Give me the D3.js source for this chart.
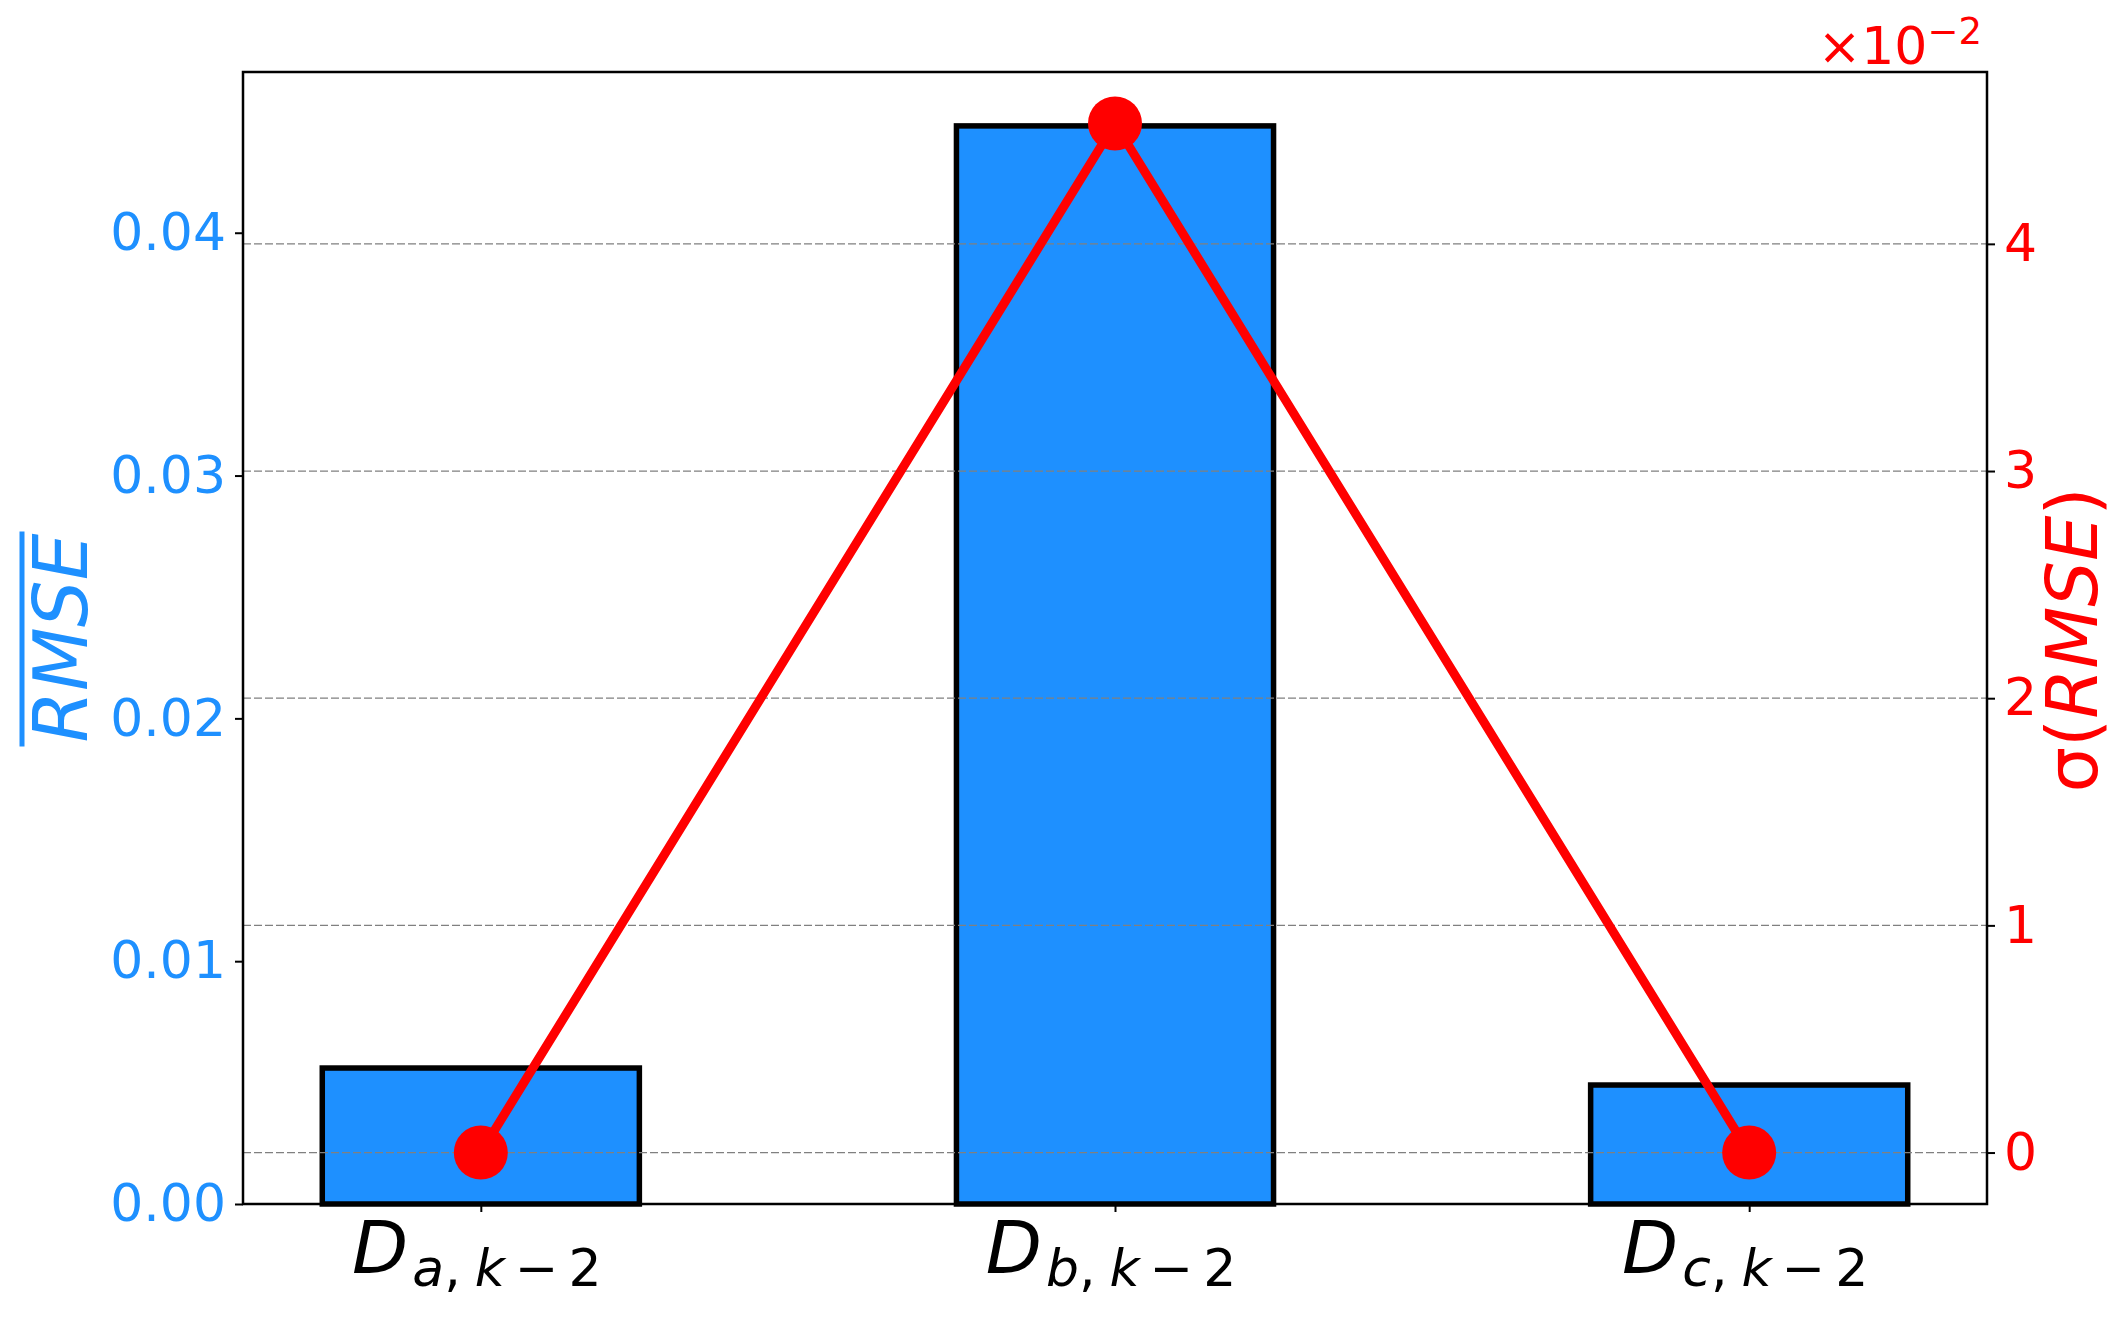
<!DOCTYPE html>
<html>
<head>
<meta charset="utf-8">
<title>RMSE bars</title>
<style>
    body { margin: 0; background: #fff; }
    svg { font-family: "DejaVu Sans", sans-serif; }
</style>
</head>
<body>
<svg width="2125" height="1318"></svg>
<script src="https://d3js.org/d3.v7.min.js"></script>
<script>
    // chart values
    var categories = ["a", "b", "c"];
    var rmseMean = [0.0056, 0.0444, 0.0049];
    var rmseStd = [0.0, 0.0453, 0.0];          // plotted in units of 1e-2
    var leftTicks = [0, 0.01, 0.02, 0.03, 0.04];
    var rightTicks = [0, 1, 2, 3, 4];

    var blue = "#1e90ff", red = "#ff0000";
    var svg = d3.select("svg");
    var m = {left: 243, right: 1987, top: 72, bottom: 1204};

    var x = d3.scaleLinear().domain([-0.375, categories.length - 1 + 0.375]).range([m.left, m.right]);
    var yL = d3.scaleLinear().domain([0, d3.max(rmseMean) * 1.05]).range([m.bottom, m.top]);
    var stdScaled = rmseStd.map(function(d) { return d * 100; });
    var sMin = d3.min(stdScaled), sMax = d3.max(stdScaled), sPad = (sMax - sMin) * 0.05;
    var yR = d3.scaleLinear().domain([sMin - sPad, sMax + sPad]).range([m.bottom, m.top]);

    // bars
    svg.append("g").selectAll("rect")
        .data(rmseMean)
        .enter().append("rect")
        .attr("x", function(d, i) { return x(i - 0.25); })
        .attr("width", x(0.25) - x(-0.25))
        .attr("y", function(d) { return yL(d); })
        .attr("height", function(d) { return yL(0) - yL(d); })
        .attr("fill", blue)
        .attr("stroke", "#000")
        .attr("stroke-width", 5.5);

    // grid of the right axis
    svg.append("g").selectAll("line")
        .data(rightTicks)
        .enter().append("line")
        .attr("x1", m.left).attr("x2", m.right)
        .attr("y1", function(d) { return yR(d); })
        .attr("y2", function(d) { return yR(d); })
        .attr("stroke", "#808080")
        .attr("stroke-width", 1.2)
        .attr("stroke-dasharray", "8,3");

    // std line + markers
    var line = d3.line()
        .x(function(d, i) { return x(i); })
        .y(function(d) { return yR(d); });
    svg.append("path")
        .datum(stdScaled)
        .attr("d", line)
        .attr("fill", "none")
        .attr("stroke", red)
        .attr("stroke-width", 9);
    svg.append("g").selectAll("circle")
        .data(stdScaled)
        .enter().append("circle")
        .attr("cx", function(d, i) { return x(i); })
        .attr("cy", function(d) { return yR(d); })
        .attr("r", 27)
        .attr("fill", red);

    // frame
    svg.append("rect")
        .attr("x", m.left).attr("y", m.top)
        .attr("width", m.right - m.left).attr("height", m.bottom - m.top)
        .attr("fill", "none").attr("stroke", "#000").attr("stroke-width", 2.5);

    // axes
    var axL = svg.append("g")
        .attr("transform", "translate(" + m.left + ",0)")
        .call(d3.axisLeft(yL).tickValues(leftTicks).tickFormat(d3.format(".2f")).tickSize(8).tickPadding(9).tickSizeOuter(0));
    var axR = svg.append("g")
        .attr("transform", "translate(" + m.right + ",0)")
        .call(d3.axisRight(yR).tickValues(rightTicks).tickFormat(d3.format("d")).tickSize(8).tickPadding(9).tickSizeOuter(0));
    var axB = svg.append("g")
        .attr("transform", "translate(0," + m.bottom + ")")
        .call(d3.axisBottom(x).tickValues(d3.range(categories.length)).tickFormat("").tickSize(8).tickSizeOuter(0));

    [axL, axR, axB].forEach(function(a) {
        a.select(".domain").remove();
        a.selectAll(".tick line").attr("stroke", "#000").attr("stroke-width", 2);
    });
    axL.selectAll(".tick text")
        .attr("fill", blue).attr("font-size", 52).attr("font-family", "DejaVu Sans");
    axR.selectAll(".tick text")
        .attr("fill", red).attr("font-size", 52).attr("font-family", "DejaVu Sans");

    // category labels: D_{c, k-2}
    var xl = svg.append("g").selectAll("text")
        .data(categories)
        .enter().append("text")
        .attr("x", function(d, i) { return x(i) - 4; })
        .attr("y", 1273)
        .attr("text-anchor", "middle")
        .attr("fill", "#000");
    xl.append("tspan").attr("font-size", 73).attr("font-style", "italic").text("D");
    xl.append("tspan").attr("font-size", 52).attr("font-style", "italic").attr("dy", 13).attr("dx", 4)
        .text(function(d) { return d; });
    xl.append("tspan").attr("font-size", 52).text(",");
    xl.append("tspan").attr("font-size", 52).attr("font-style", "italic").attr("dx", 14).text("k");
    xl.append("tspan").attr("font-size", 52).attr("dx", 10).text("\u2212");
    xl.append("tspan").attr("font-size", 52).attr("dx", 10).text("2");

    // offset label of the right axis
    var off = svg.append("text")
        .attr("x", 1982).attr("y", 64)
        .attr("text-anchor", "end")
        .attr("fill", red)
        .attr("font-size", 52);
    off.append("tspan").text("\u00d710");
    off.append("tspan").attr("font-size", 37).attr("dy", -20).text("\u22122");

    // left y label with overline
    var lab = svg.append("text")
        .attr("transform", "translate(87,638) rotate(-90)")
        .attr("text-anchor", "middle")
        .attr("fill", blue)
        .attr("font-size", 74)
        .attr("font-style", "italic")
        .text("RMSE");
    var w = lab.node().getComputedTextLength();
    svg.append("line")
        .attr("x1", 22).attr("x2", 22)
        .attr("y1", 638 - w / 2 - 2).attr("y2", 638 + w / 2 + 4)
        .attr("stroke", blue).attr("stroke-width", 5);

    // right y label
    var rl = svg.append("text")
        .attr("transform", "translate(2097,640) rotate(-90)")
        .attr("text-anchor", "middle")
        .attr("fill", red)
        .attr("font-size", 72);
    rl.append("tspan").text("\u03c3(");
    rl.append("tspan").attr("font-style", "italic").text("RMSE");
    rl.append("tspan").text(")");
</script>
</body>
</html>
